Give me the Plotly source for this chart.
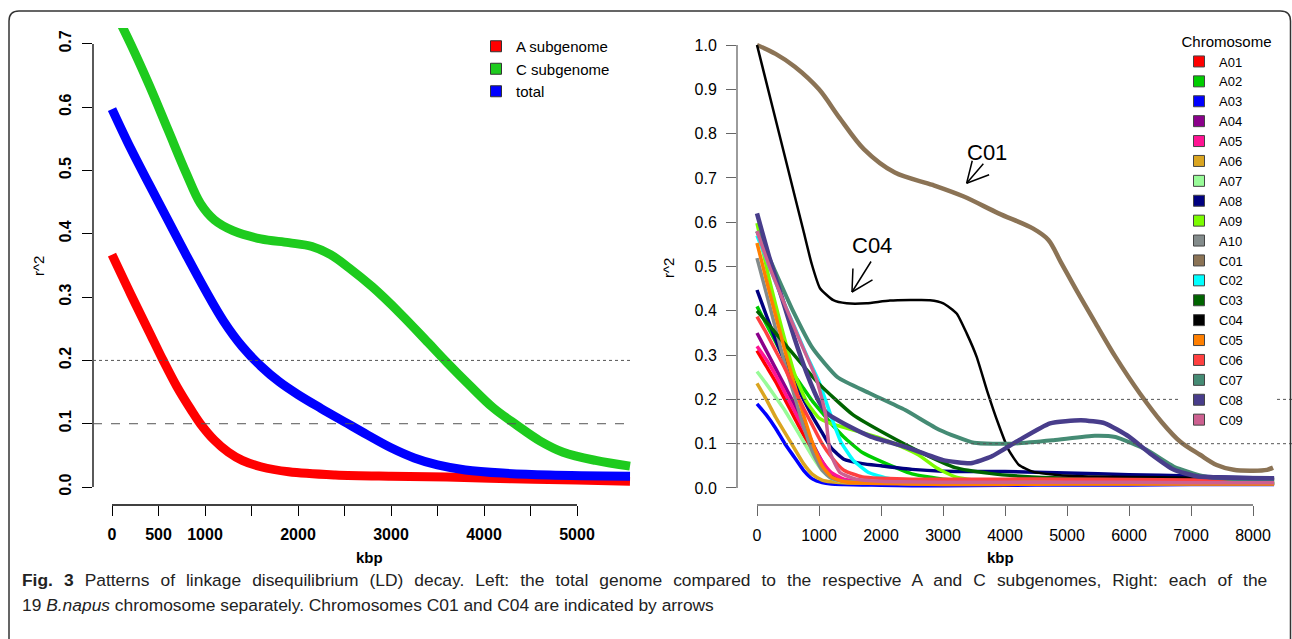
import plotly.graph_objects as go

W, H = 1292, 639

# ---------------- Left panel data (kbp, r^2) ----------------
A_SUB_KBP = [0, 200, 400, 550, 700, 850, 950, 1100, 1250, 1400, 1600, 1900, 2400, 3000, 3600, 4300, 5000, 5570]
A_SUB_R2 = [0.367, 0.305, 0.245, 0.200, 0.158, 0.122, 0.100, 0.074, 0.055, 0.042, 0.032, 0.024, 0.019, 0.017,
            0.016, 0.013, 0.011, 0.009]

C_SUB_KBP = [0, 200, 400, 600, 800, 950, 1100, 1300, 1600, 1900, 2150, 2350, 2550, 2800, 3100, 3400, 3600, 3850,
             4100, 4350, 4600, 4850, 5200, 5570]
C_SUB_R2 = [0.76, 0.70, 0.635, 0.565, 0.495, 0.448, 0.422, 0.405, 0.392, 0.386, 0.380, 0.367, 0.346, 0.316, 0.274,
            0.228, 0.197, 0.160, 0.125, 0.098, 0.073, 0.055, 0.042, 0.033]

TOTAL_KBP = [0, 200, 400, 600, 800, 1000, 1200, 1400, 1600, 1800, 2000, 2250, 2500, 2750, 3000, 3250, 3500, 3800,
             4200, 4700, 5570]
TOTAL_R2 = [0.597, 0.535, 0.478, 0.422, 0.366, 0.312, 0.262, 0.222, 0.191, 0.166, 0.146, 0.124, 0.103, 0.082, 0.062,
            0.046, 0.035, 0.027, 0.022, 0.019, 0.017]

LEFT_NAMES = ["A subgenome", "C subgenome", "total"]
LEFT_COLORS = ["#FF0000", "#1ECB1E", "#0000FF"]

# ---------------- Right panel data (kbp, r^2) ----------------
GRID_KBP = [0, 150, 300, 450, 600, 750, 900, 1050, 1200, 1400, 1700, 2000, 2500, 3000, 4000, 5000, 6000, 7000, 8000, 8340]

A01_R2 = [0.31, 0.275, 0.24, 0.20, 0.16, 0.12, 0.085, 0.05, 0.028, 0.016, 0.012, 0.011, 0.010, 0.010, 0.010, 0.010, 0.010, 0.010, 0.010, 0.010]
A02_R2 = [0.41, 0.37, 0.33, 0.29, 0.255, 0.225, 0.195, 0.17, 0.145, 0.115, 0.08, 0.06, 0.032, 0.02, 0.014, 0.012, 0.012, 0.012, 0.012, 0.012]
A03_R2 = [0.19, 0.165, 0.135, 0.10, 0.07, 0.04, 0.02, 0.012, 0.009, 0.008, 0.007, 0.006, 0.005, 0.005, 0.006, 0.007, 0.007, 0.008, 0.008, 0.008]
A04_R2 = [0.35, 0.31, 0.27, 0.23, 0.19, 0.145, 0.10, 0.06, 0.03, 0.016, 0.012, 0.011, 0.010, 0.010, 0.010, 0.010, 0.010, 0.010, 0.010, 0.010]
A05_R2 = [0.32, 0.29, 0.255, 0.215, 0.175, 0.135, 0.095, 0.06, 0.035, 0.02, 0.014, 0.012, 0.011, 0.011, 0.011, 0.011, 0.011, 0.011, 0.011, 0.011]
A06_R2 = [0.236, 0.20, 0.16, 0.125, 0.09, 0.055, 0.03, 0.018, 0.014, 0.012, 0.011, 0.011, 0.010, 0.010, 0.010, 0.010, 0.010, 0.010, 0.010, 0.010]
A07_R2 = [0.263, 0.235, 0.205, 0.175, 0.14, 0.105, 0.07, 0.04, 0.022, 0.014, 0.012, 0.011, 0.010, 0.010, 0.010, 0.010, 0.010, 0.010, 0.010, 0.010]
A08_R2 = [0.447, 0.39, 0.335, 0.285, 0.24, 0.20, 0.16, 0.125, 0.09, 0.065, 0.055, 0.05, 0.042, 0.038, 0.037, 0.034, 0.030, 0.027, 0.023, 0.022]
A10_R2 = [0.519, 0.44, 0.36, 0.28, 0.21, 0.14, 0.08, 0.04, 0.022, 0.015, 0.012, 0.011, 0.010, 0.010, 0.010, 0.010, 0.010, 0.010, 0.010, 0.010]
C05_R2 = [0.553, 0.47, 0.39, 0.31, 0.235, 0.165, 0.10, 0.05, 0.025, 0.014, 0.011, 0.010, 0.009, 0.008, 0.008, 0.009, 0.009, 0.009, 0.009, 0.009]
C06_R2 = [0.387, 0.35, 0.31, 0.27, 0.225, 0.18, 0.14, 0.10, 0.07, 0.04, 0.025, 0.022, 0.020, 0.020, 0.020, 0.020, 0.019, 0.018, 0.018, 0.018]

A09_KBP = [0, 200, 400, 600, 800, 1000, 1200, 1400, 1700, 2000, 2300, 2600, 2900, 3200, 3600, 4500, 5500, 6500, 7500, 8340]
A09_R2 = [0.598, 0.47, 0.36, 0.26, 0.195, 0.158, 0.145, 0.137, 0.125, 0.112, 0.095, 0.075, 0.045, 0.025, 0.016, 0.013, 0.012, 0.012, 0.012, 0.012]

C01_KBP = [0, 300, 610, 1000, 1334, 1723, 2223, 2835, 3335, 3895, 4448, 4700, 4900, 5170, 5448, 5782, 6173, 6532,
           6823, 7145, 7414, 7688, 8000, 8226, 8323]
C01_R2 = [1.0, 0.980, 0.951, 0.900, 0.835, 0.765, 0.712, 0.684, 0.658, 0.620, 0.586, 0.560, 0.510, 0.442, 0.375,
          0.296, 0.214, 0.148, 0.105, 0.075, 0.052, 0.041, 0.039, 0.041, 0.046]

C02_KBP = [0, 200, 400, 600, 800, 1000, 1200, 1350, 1550, 1800, 2100, 2500, 3000, 4000, 5000, 6000, 7000, 8000, 8340]
C02_R2 = [0.57, 0.5, 0.43, 0.365, 0.3, 0.24, 0.16, 0.105, 0.063, 0.035, 0.022, 0.015, 0.012, 0.011, 0.011, 0.011, 0.011, 0.011, 0.011]

C03_KBP = [0, 450, 1000, 1550, 2100, 2650, 3200, 3750, 4300, 5000, 6000, 7000, 8340]
C03_R2 = [0.40, 0.325, 0.235, 0.165, 0.12, 0.08, 0.046, 0.033, 0.026, 0.022, 0.020, 0.020, 0.020]

C04_KBP = [0, 250, 500, 750, 880, 1016, 1231, 1446, 1769, 2145, 2790, 3005, 3220, 3382, 3543, 3710, 3892, 4058,
           4226, 4448, 4890, 5448, 6500, 8340]
C04_R2 = [1.0, 0.86, 0.72, 0.58, 0.507, 0.451, 0.424, 0.417, 0.417, 0.423, 0.424, 0.417, 0.394, 0.349, 0.296,
          0.22, 0.145, 0.086, 0.052, 0.037, 0.029, 0.026, 0.024, 0.020]

C07_KBP = [0, 210, 580, 900, 1300, 1800, 2390, 2947, 3500, 4113, 4781, 5448, 5782, 6284, 6726, 7226, 7800, 8340]
C07_R2 = [0.58, 0.515, 0.40, 0.315, 0.25, 0.215, 0.176, 0.131, 0.102, 0.100, 0.108, 0.118, 0.115, 0.086, 0.048,
          0.026, 0.020, 0.020]

C08_KBP = [0, 200, 400, 600, 800, 1000, 1124, 1500, 1834, 2390, 3000, 3447, 3781, 4226, 4726, 5226, 5613, 6000,
           6339, 6726, 7113, 8340]
C08_R2 = [0.62, 0.52, 0.43, 0.34, 0.26, 0.195, 0.169, 0.138, 0.116, 0.093, 0.063, 0.056, 0.071, 0.108, 0.146,
          0.153, 0.146, 0.116, 0.078, 0.041, 0.026, 0.022]

C09_KBP = [0, 200, 430, 700, 960, 1100, 1180, 1340, 1600, 2000, 3000, 4000, 5000, 6000, 7000, 8000, 8340]
C09_R2 = [0.58, 0.5, 0.42, 0.33, 0.245, 0.17, 0.08, 0.035, 0.02, 0.015, 0.013, 0.013, 0.013, 0.013, 0.012, 0.012, 0.012]

CHROM_NAMES = ["A01", "A02", "A03", "A04", "A05", "A06", "A07", "A08", "A09", "A10",
               "C01", "C02", "C03", "C04", "C05", "C06", "C07", "C08", "C09"]
CHROM_COLORS = ["#FF0000", "#00CD00", "#0000FF", "#8B008B", "#FF1493", "#DAA520", "#98FB98", "#000080",
                "#7CFC00", "#838B8B", "#8B7355", "#00FFFF", "#006400", "#000000", "#FF7F00", "#FF4040",
                "#458B74", "#483D8B", "#CD6090"]
CHROM_WIDTHS = [3.5, 3.5, 3.5, 3.5, 3.5, 3.5, 3.5, 3.5, 3.5, 3.5, 4.5, 3.5, 3.5, 2.5, 3.5, 3.5, 4, 4.5, 3.5]

LEFT_XTICKS = [0, 500, 1000, 1500, 2000, 2500, 3000, 3500, 4000, 4500, 5000]
LEFT_XLABELS = ["0", "500", "1000", "", "2000", "", "3000", "", "4000", "", "5000"]
LEFT_YTICKS = [0, 0.1, 0.2, 0.3, 0.4, 0.5, 0.6, 0.7]
RIGHT_XTICKS = [0, 1000, 2000, 3000, 4000, 5000, 6000, 7000, 8000]
RIGHT_YTICKS = [0, 0.1, 0.2, 0.3, 0.4, 0.5, 0.6, 0.7, 0.8, 0.9, 1.0]

# ---------------- Figure ----------------
FONT = "Liberation Sans"


def px(xp):
    return xp / W


def py(yp):
    return 1 - yp / H


right_series = {
    "A01": (GRID_KBP, A01_R2), "A02": (GRID_KBP, A02_R2), "A03": (GRID_KBP, A03_R2),
    "A04": (GRID_KBP, A04_R2), "A05": (GRID_KBP, A05_R2), "A06": (GRID_KBP, A06_R2),
    "A07": (GRID_KBP, A07_R2), "A08": (GRID_KBP, A08_R2), "A09": (A09_KBP, A09_R2),
    "A10": (GRID_KBP, A10_R2), "C01": (C01_KBP, C01_R2), "C02": (C02_KBP, C02_R2),
    "C03": (C03_KBP, C03_R2), "C04": (C04_KBP, C04_R2), "C05": (GRID_KBP, C05_R2),
    "C06": (GRID_KBP, C06_R2), "C07": (C07_KBP, C07_R2), "C08": (C08_KBP, C08_R2),
    "C09": (C09_KBP, C09_R2),
}

fig = go.Figure()

left_data = [(A_SUB_KBP, A_SUB_R2), (C_SUB_KBP, C_SUB_R2), (TOTAL_KBP, TOTAL_R2)]
for (xs, ys), name, col in zip(left_data, LEFT_NAMES, LEFT_COLORS):
    fig.add_trace(go.Scatter(x=xs, y=ys, mode="lines", line=dict(color=col, width=9, shape="spline", smoothing=1.0),
                             showlegend=False, xaxis="x", yaxis="y", hoverinfo="skip"))
for name, col in zip(LEFT_NAMES, LEFT_COLORS):
    fig.add_trace(go.Scatter(x=[None], y=[None], mode="markers", name=name,
                             marker=dict(symbol="square", size=11, color=col, line=dict(color="#333333", width=1)),
                             legend="legend", xaxis="x", yaxis="y"))

for name, col, wd in zip(CHROM_NAMES, CHROM_COLORS, CHROM_WIDTHS):
    xs, ys = right_series[name]
    sm = 0.9 if name == "C01" else 0.5
    fig.add_trace(go.Scatter(x=xs, y=ys, mode="lines", line=dict(color=col, width=wd, shape="spline", smoothing=sm),
                             showlegend=False, xaxis="x2", yaxis="y2", hoverinfo="skip"))
for name, col in zip(CHROM_NAMES, CHROM_COLORS):
    fig.add_trace(go.Scatter(x=[None], y=[None], mode="markers", name=name,
                             marker=dict(symbol="square", size=11, color=col, line=dict(color="#444444", width=1)),
                             legend="legend2", xaxis="x2", yaxis="y2"))

YDOM = [py(505), py(28)]
bold16 = dict(family=FONT, size=16, color="black", weight="bold")
reg16 = dict(family=FONT, size=16, color="black")

fig.update_layout(
    width=W, height=H,
    margin=dict(l=0, r=0, t=0, b=0, autoexpand=False),
    paper_bgcolor="white", plot_bgcolor="white",
    font=dict(family=FONT, color="black"),
    xaxis=dict(domain=[px(93), px(631)], range=[-204.3, 5580.6], anchor="y",
               tickmode="array", tickvals=LEFT_XTICKS, ticktext=LEFT_XLABELS,
               ticks="outside", ticklen=10, tickwidth=1.3, tickcolor="black",
               showline=False, showgrid=False, zeroline=False, tickfont=bold16, ticklabelstandoff=5),
    yaxis=dict(domain=YDOM, range=[-0.0284, 0.7251], anchor="x",
               tickmode="array", tickvals=LEFT_YTICKS, ticktext=["%.1f" % v for v in LEFT_YTICKS],
               tickangle=-90, ticks="outside", ticklen=10, tickwidth=1.3, tickcolor="black",
               showline=False, showgrid=False, zeroline=False, tickfont=bold16, ticklabelstandoff=5),
    xaxis2=dict(domain=[px(737), 1.0], range=[-322.6, 8629], anchor="y2",
                tickmode="array", tickvals=RIGHT_XTICKS, ticktext=[str(v) for v in RIGHT_XTICKS],
                ticks="outside", ticklen=10, tickwidth=1.3, tickcolor="#666666",
                showline=False, showgrid=False, zeroline=False, tickfont=reg16, ticklabelstandoff=6),
    yaxis2=dict(domain=YDOM, range=[-0.0384, 1.0384], anchor="x2",
                tickmode="array", tickvals=RIGHT_YTICKS, ticktext=["%.1f" % v for v in RIGHT_YTICKS],
                ticks="outside", ticklen=10, tickwidth=1.3, tickcolor="#666666",
                showline=False, showgrid=False, zeroline=False, tickfont=reg16, ticklabelstandoff=6),
    legend=dict(x=px(476), y=py(30), xanchor="left", yanchor="top", bgcolor="rgba(255,255,255,0)",
                font=dict(family=FONT, size=15, color="black"), traceorder="normal"),
    legend2=dict(x=px(1179), y=py(27), xanchor="left", yanchor="top", bgcolor="white",
                 font=dict(family=FONT, size=13, color="black"), traceorder="normal",
                 title=dict(text="Chromosome", side="top center", font=dict(family=FONT, size=15, color="black"))),
)

shapes = []
# R-style axis lines spanning the tick range only
shapes.append(dict(type="line", xref="x domain", yref="y", x0=0, x1=0, y0=0, y1=0.7,
                   line=dict(color="black", width=1.3)))
shapes.append(dict(type="line", xref="x", yref="y domain", x0=0, x1=5000, y0=0, y1=0,
                   line=dict(color="black", width=1.3)))
shapes.append(dict(type="line", xref="x2 domain", yref="y2", x0=0, x1=0, y0=0, y1=1.0,
                   line=dict(color="#666666", width=1.3)))
shapes.append(dict(type="line", xref="x2", yref="y2 domain", x0=0, x1=8000, y0=0, y1=0,
                   line=dict(color="#666666", width=1.3)))
# reference lines
shapes.append(dict(type="line", xref="x domain", yref="y", x0=0, x1=1, y0=0.2, y1=0.2,
                   line=dict(color="#555555", width=1, dash="dot")))
shapes.append(dict(type="line", xref="x domain", yref="y", x0=0, x1=1, y0=0.1, y1=0.1,
                   line=dict(color="#555555", width=1, dash="dash")))
shapes.append(dict(type="line", xref="x2 domain", yref="y2", x0=0, x1=1, y0=0.2, y1=0.2,
                   line=dict(color="#555555", width=1, dash="dot")))
shapes.append(dict(type="line", xref="x2 domain", yref="y2", x0=0, x1=1, y0=0.1, y1=0.1,
                   line=dict(color="#555555", width=1, dash="dot")))
# outer rounded frame
fx0, fx1, fy0, fyb, r = px(9), px(1290.5), py(11), py(660), 10
path = (f"M {fx0},{fyb} L {fx0},{py(11 + r)} Q {fx0},{fy0} {px(9 + r)},{fy0} "
        f"L {px(1290.5 - r)},{fy0} Q {fx1},{fy0} {fx1},{py(11 + r)} L {fx1},{fyb}")
shapes.append(dict(type="path", xref="paper", yref="paper", path=path,
                   line=dict(color="#333333", width=1.5)))
fig.update_layout(shapes=shapes)

ann = []
# axis titles
ann.append(dict(xref="paper", yref="paper", x=px(38), y=py(266), text="r^2", showarrow=False, textangle=-90,
                font=dict(family=FONT, size=15), xanchor="center", yanchor="middle"))
ann.append(dict(xref="paper", yref="paper", x=px(668), y=py(268), text="r^2", showarrow=False, textangle=-90,
                font=dict(family=FONT, size=15), xanchor="center", yanchor="middle"))
ann.append(dict(xref="paper", yref="paper", x=px(369), y=py(557), text="<b>kbp</b>", showarrow=False,
                font=dict(family=FONT, size=15), xanchor="center", yanchor="middle"))
ann.append(dict(xref="paper", yref="paper", x=px(1000), y=py(557), text="<b>kbp</b>", showarrow=False,
                font=dict(family=FONT, size=15), xanchor="center", yanchor="middle"))
# chromosome labels and arrows (R style open arrows)
ann.append(dict(xref="x2", yref="y2", x=3710, y=0.758, text="C01", showarrow=False,
                font=dict(family=FONT, size=22), xanchor="center", yanchor="middle"))
ann.append(dict(xref="x2", yref="y2", x=1855, y=0.5485, text="C04", showarrow=False,
                font=dict(family=FONT, size=22), xanchor="center", yanchor="middle"))
for (tx, ty), offs in [((3381, 0.688), [(18, -21), (24, -9), (6, -24)]),
                       ((1532, 0.4424), [(20, -32), (22, -13), (1, -25)])]:
    for ax, ay in offs:
        ann.append(dict(xref="x2", yref="y2", x=tx, y=ty, ax=ax, ay=ay, text="", showarrow=True,
                        arrowhead=0, arrowwidth=1.5, arrowcolor="black", standoff=0, startstandoff=0))
# caption (first line justified in the original)
ann.append(dict(xref="paper", yref="paper", x=px(20), y=py(580), xanchor="left", yanchor="middle", showarrow=False,
                text="<span style=\"word-spacing:6.2px\"><b>Fig. 3</b> Patterns of linkage disequilibrium (LD) decay. "
                     "Left: the total genome compared to the respective A and C subgenomes, Right: each of the</span>",
                font=dict(family=FONT, size=17.4, color="#222222")))
ann.append(dict(xref="paper", yref="paper", x=px(20), y=py(605), xanchor="left", yanchor="middle", showarrow=False,
                text="19 <i>B.napus</i> chromosome separately. Chromosomes C01 and C04 are indicated by arrows",
                font=dict(family=FONT, size=17.4, color="#222222")))
fig.update_layout(annotations=ann)

fig.write_html("out.html")
